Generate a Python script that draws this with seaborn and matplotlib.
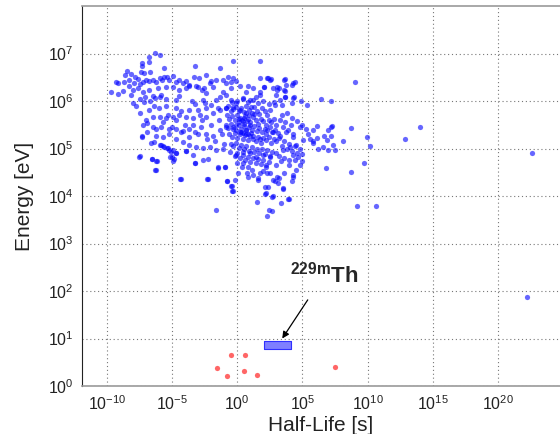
import numpy as np
import pandas as pd
import matplotlib
matplotlib.use("Agg")
import matplotlib.pyplot as plt
import seaborn as sns

# ---- data (log10 half-life [s], log10 energy [eV]) ----
blue_log_points = [
    (-6.33, 7.02), (-5.97, 6.96), (-6.77, 6.92), (-7.33, 6.81), (-6.77, 6.82), (-7.31, 6.74),
    (-5.64, 6.69), (-3.28, 6.74), (-0.33, 6.84), (1.72, 6.85), (-1.33, 6.69), (-6.67, 6.62),
    (-7.15, 6.58), (-8.46, 6.64), (-8.62, 6.55), (-8.15, 6.57), (-7.41, 6.61), (-7.85, 6.50),
    (-7.62, 6.47), (-9.33, 6.39), (-9.67, 6.19), (-9.13, 6.15), (-8.79, 6.22), (-8.15, 6.13),
    (-8.03, 6.24), (-7.64, 6.28), (-7.44, 6.36), (-7.00, 6.44), (-6.77, 6.43), (-6.44, 6.45),
    (-5.97, 6.49), (-5.59, 6.51), (-5.26, 6.44), (-4.95, 6.52), (-4.44, 6.44), (-3.92, 6.43),
    (-3.33, 6.51), (-2.95, 6.48), (-2.44, 6.54), (-2.00, 6.42), (-1.62, 6.44), (-1.10, 6.45),
    (-0.72, 6.51), (-0.33, 6.48), (-0.08, 6.42), (0.18, 6.31), (0.82, 6.31), (1.21, 6.27),
    (1.72, 6.20), (2.36, 6.48), (2.62, 6.47), (2.05, 6.30), (2.74, 6.27), (3.08, 6.23),
    (3.56, 6.44), (3.56, 6.23), (3.72, 6.34), (4.21, 6.34), (4.46, 6.40), (3.00, 6.13),
    (3.26, 6.02), (3.64, 6.08), (4.28, 6.07), (4.87, 6.00), (5.36, 5.92), (6.41, 6.05),
    (7.21, 6.00), (9.05, 6.40),
    (-9.18, 6.37), (-8.67, 6.41), (-8.28, 6.44), (-8.28, 6.31), (-7.90, 6.37), (-7.21, 6.41),
    (-6.23, 6.41), (-5.77, 6.44), (-5.41, 6.50), (-4.69, 6.41), (-4.18, 6.37), (-3.67, 6.31),
    (-3.03, 6.30), (-2.59, 6.27), (-2.13, 6.37), (-1.87, 6.29), (-0.85, 6.38), (-0.46, 6.41),
    (0.69, 6.20), (-6.10, 6.27), (-6.74, 6.24), (-5.85, 6.13), (-3.92, 6.27), (-0.46, 6.27),
    (-1.10, 6.20),
    (-7.26, 6.20), (-7.05, 6.09), (-7.13, 5.97), (-6.67, 6.01), (-6.31, 6.06), (-5.97, 6.09),
    (-5.46, 6.30), (-4.95, 6.29), (-4.44, 6.24), (-3.67, 6.33), (-3.15, 6.31), (-2.69, 6.24),
    (-2.38, 6.16), (-2.64, 6.02), (-3.28, 5.94), (-3.67, 5.81), (-3.03, 5.81), (-2.38, 5.85),
    (-2.00, 5.92), (-1.62, 6.02), (-1.36, 6.09), (-0.85, 6.13), (-0.46, 6.03), (-0.08, 5.95),
    (0.44, 6.06), (0.95, 6.02), (1.41, 6.09), (1.72, 6.13), (1.08, 5.88), (0.69, 5.74),
    (0.18, 5.81), (-0.33, 5.88), (-0.85, 5.85), (-1.36, 5.81), (-1.87, 5.74), (-2.38, 5.67),
    (-2.90, 5.71), (-3.41, 5.64), (-3.92, 5.67), (-4.44, 5.71), (-4.95, 5.67), (-5.46, 5.64),
    (-5.97, 5.67), (-6.49, 5.67), (-7.00, 5.60), (-6.74, 5.81), (-6.36, 5.90), (-5.46, 5.90),
    (-4.69, 5.85), (-4.31, 5.78), (-6.92, 5.53), (-4.69, 6.02),
    (-6.23, 5.41), (-5.85, 5.45), (-5.21, 5.41), (-4.69, 5.41), (-4.18, 5.36), (-3.67, 5.41),
    (-3.28, 5.34), (-2.77, 5.45), (-2.38, 5.31), (-1.87, 5.27), (-1.36, 5.38), (-0.85, 5.45),
    (-0.33, 5.41), (0.18, 5.34), (0.69, 5.31), (1.21, 5.27), (1.72, 5.20), (2.23, 5.31),
    (2.74, 5.34), (3.26, 5.27), (3.77, 5.34), (4.28, 5.24), (4.79, 5.45), (5.31, 5.41),
    (5.82, 5.39), (6.15, 5.48), (6.67, 5.27), (6.97, 5.38), (7.21, 5.46), (7.23, 5.27),
    (6.85, 5.17), (7.36, 5.08), (7.49, 4.96), (6.97, 4.97), (6.59, 5.04), (6.08, 5.22),
    (5.82, 5.11), (5.56, 5.20), (5.05, 5.18), (4.54, 5.08), (4.03, 5.04), (3.51, 4.97),
    (3.00, 4.90), (2.49, 4.83), (1.97, 4.87), (1.46, 4.83), (0.95, 4.90), (0.44, 4.93),
    (-0.08, 4.87), (-0.59, 4.93), (-1.10, 5.00), (-1.62, 4.97), (-2.13, 5.04), (-2.64, 5.01),
    (-3.15, 5.04), (-3.67, 5.07), (-4.18, 5.14), (-4.69, 5.21), (-5.21, 5.31), (-5.72, 5.25),
    (-6.23, 5.27), (-6.62, 5.11), (-5.97, 5.07), (-5.59, 5.04), (-5.33, 5.01), (-5.08, 4.92),
    (-4.69, 4.90), (-3.92, 4.95), (-3.41, 4.86), (-3.28, 4.69), (-2.64, 4.75), (-2.26, 4.78),
    (-1.49, 4.62), (-0.95, 4.62), (-0.77, 4.31), (-0.44, 4.22), (-0.36, 4.10), (-0.05, 4.69),
    (0.46, 4.69), (0.82, 4.62), (1.21, 4.45), (1.59, 4.38), (1.97, 4.52), (2.23, 4.62),
    (2.49, 4.48), (2.74, 4.34), (2.10, 4.20), (2.23, 4.06), (2.69, 3.98), (3.21, 4.38),
    (3.51, 4.17), (3.90, 3.94), (4.28, 4.45), (4.54, 4.55), (4.79, 4.66), (5.00, 4.73),
    (4.28, 4.87), (4.67, 4.83), (3.97, 4.76), (3.38, 4.73), (3.00, 4.66), (-7.51, 4.83),
    (-6.54, 4.78), (-6.28, 4.55), (-6.23, 4.73), (-5.15, 4.83), (-4.95, 4.73), (-4.36, 4.36),
    (-2.31, 4.36), (-4.95, 4.97), (-7.31, 5.25),
    (14.04, 5.45), (12.87, 5.19), (9.93, 5.24), (10.20, 5.05), (9.72, 4.70), (8.75, 4.51),
    (8.73, 5.44), (8.13, 5.16), (6.81, 4.60), (9.21, 3.80), (10.64, 3.78), (22.60, 4.91),
    (22.26, 1.88), (7.24, 5.48),
    (-7.29, 5.26), (-6.37, 5.13), (-7.47, 4.85), (-6.52, 4.78), (-6.19, 4.74), (-6.24, 4.55),
    (-4.32, 4.35), (-5.88, 5.07), (-5.68, 5.05), (-5.42, 5.01), (-5.24, 4.96), (-5.03, 4.83),
    (-4.86, 4.78), (-4.70, 4.91), (-3.94, 4.94), (-3.25, 4.70),
    (-2.27, 4.36), (-0.77, 4.32), (-0.48, 4.22), (-0.41, 4.10), (-1.48, 4.60), (-0.94, 4.62),
    (-1.61, 3.71), (1.53, 3.88), (2.43, 3.71), (2.69, 3.69), (2.26, 3.58), (2.74, 3.99),
    (3.38, 3.85), (3.97, 3.94), (3.53, 4.15), (2.10, 4.04), (2.38, 4.20), (2.89, 4.31),
    (3.15, 4.27), (3.02, 4.41), (3.61, 4.48), (4.17, 4.31), (4.25, 4.41), (0.77, 4.48),
    (0.84, 4.41), (1.61, 4.34), (1.74, 4.48), (2.26, 4.48), (0.08, 4.48), (-0.18, 4.34),
    (0.34, 4.62), (1.10, 4.55),
    (1.72, 6.49), (2.26, 6.49), (2.51, 6.45), (3.66, 6.46), (3.02, 6.29), (3.20, 6.28),
    (2.07, 6.30), (4.30, 6.38), (4.37, 6.08), (3.66, 6.08), (3.66, 6.21), (4.17, 5.96),
    (3.41, 5.91), (2.89, 5.92),
    (-0.9, 5.85), (-0.7, 5.90), (-0.5, 5.78), (-0.3, 5.83), (-0.1, 5.88), (0.1, 5.80),
    (0.3, 5.86), (0.5, 5.77), (0.7, 5.90), (0.9, 5.82), (1.1, 5.75), (1.3, 5.87),
    (1.5, 5.80), (1.7, 5.72), (1.9, 5.85), (2.1, 5.78), (2.3, 5.70), (2.5, 5.82),
    (-0.8, 5.70), (-0.6, 5.62), (-0.4, 5.68), (-0.2, 5.60), (0.0, 5.70), (0.2, 5.65),
    (0.4, 5.58), (0.6, 5.68), (0.8, 5.62), (1.0, 5.55), (1.2, 5.66), (1.4, 5.60),
    (1.6, 5.52), (1.8, 5.63), (2.0, 5.57), (2.2, 5.50), (2.4, 5.60), (2.6, 5.55),
    (2.8, 5.62), (3.0, 5.50),
    (-0.9, 5.50), (-0.7, 5.44), (-0.5, 5.52), (-0.3, 5.45), (-0.1, 5.40), (0.1, 5.50),
    (0.3, 5.42), (0.5, 5.48), (0.7, 5.38), (0.9, 5.45), (1.1, 5.40), (1.3, 5.47),
    (1.5, 5.36), (1.7, 5.43), (1.9, 5.35), (2.1, 5.42), (2.3, 5.38), (2.5, 5.45),
    (2.7, 5.35), (2.9, 5.40), (3.1, 5.33),
    (-0.6, 5.30), (-0.4, 5.25), (-0.2, 5.32), (0.0, 5.22), (0.2, 5.30), (0.4, 5.20),
    (0.6, 5.28), (0.8, 5.18), (1.0, 5.27), (1.2, 5.20), (1.4, 5.15), (1.6, 5.25),
    (1.8, 5.12), (2.0, 5.22), (2.2, 5.17), (2.4, 5.25), (2.6, 5.12), (2.8, 5.20),
    (3.0, 5.15), (3.2, 5.23),
    (-0.5, 5.10), (-0.3, 5.05), (-0.1, 5.12), (0.1, 5.02), (0.3, 5.08), (0.5, 4.98),
    (0.7, 5.06), (0.9, 4.95), (1.1, 5.03), (1.3, 4.92), (1.5, 5.00), (1.7, 4.90),
    (1.9, 4.98), (2.1, 4.88), (2.3, 4.96), (2.5, 4.85), (2.7, 4.93),
    (-0.2, 4.85), (0.0, 4.90), (0.2, 4.80), (0.4, 4.86), (0.6, 4.76), (0.8, 4.82),
    (1.0, 4.72), (1.2, 4.80), (1.4, 4.70), (1.6, 4.78), (1.8, 4.68), (2.0, 4.75),
    (2.2, 4.65), (2.4, 4.72),
    (0.0, 6.00), (0.4, 6.05), (0.8, 5.98), (1.2, 6.02), (1.6, 5.95), (2.0, 6.00),
    (2.4, 5.93), (2.8, 5.98), (-0.4, 5.98),
    (0.15, 5.55), (0.35, 5.60), (0.55, 5.52), (0.75, 5.57), (0.95, 5.50), (0.25, 5.35),
    (0.45, 5.33), (0.65, 5.40), (0.85, 5.30), (1.05, 5.33), (0.5, 5.65), (0.9, 5.70),
    (1.3, 5.73), (0.1, 5.62), (-0.1, 5.50),
    (3.3, 5.60), (3.5, 5.45), (3.7, 5.55), (3.9, 5.38), (4.1, 5.50), (4.3, 5.30),
    (3.4, 5.05), (3.6, 5.15), (3.8, 4.98), (4.0, 5.10), (4.2, 4.95), (4.4, 5.05),
    (4.6, 4.90), (4.8, 5.00), (5.0, 4.88), (3.2, 4.85), (3.6, 4.80), (4.0, 4.65),
    (4.4, 4.75), (3.4, 5.70), (3.8, 5.75), (4.2, 5.65), (4.6, 5.58), (5.0, 5.50),
    (5.4, 5.30), (5.8, 5.15), (6.2, 5.00),
    (-7.8, 5.90), (-7.5, 5.75), (-7.2, 5.50), (-6.9, 5.35), (-6.5, 5.45), (-6.0, 5.85),
    (-5.7, 5.55), (-5.3, 5.70), (-5.0, 5.45), (-4.7, 5.60), (-4.3, 5.35), (-4.0, 5.50),
    (-3.7, 5.25), (-3.4, 5.50), (-3.0, 5.30), (-2.7, 5.60), (-2.3, 5.20), (-2.0, 5.50),
    (-1.7, 5.15), (-1.4, 5.60), (-1.2, 5.30), (-1.0, 5.10), (-1.5, 5.85), (-2.5, 5.95),
    (-3.5, 6.00), (-4.5, 6.10), (-5.5, 6.05), (-6.5, 6.10), (-7.5, 6.05), (-8.0, 5.95),
]

red_log_halflife = [-0.48, 0.59, -1.56, -0.79, 0.51, 1.51, 7.50]
red_log_energy = [0.65, 0.65, 0.38, 0.21, 0.32, 0.23, 0.40]

th_halflife_range = [1.1e2, 1.3e4]   # s
th_energy_range = [5.9, 9.0]         # eV

x_tick_exponents = [-10, -5, 0, 5, 10, 15, 20]
y_tick_exponents = [0, 1, 2, 3, 4, 5, 6, 7]

blue_df = pd.DataFrame(blue_log_points, columns=["log_t", "log_e"])
blue_df["half_life"] = 10.0 ** blue_df["log_t"]
blue_df["energy"] = 10.0 ** blue_df["log_e"]
red_df = pd.DataFrame({"half_life": 10.0 ** np.array(red_log_halflife),
                       "energy": 10.0 ** np.array(red_log_energy)})

# ---- style ----
sns.set_style("white")
plt.rcParams["font.family"] = ["Liberation Sans", "DejaVu Sans"]
plt.rcParams["mathtext.fontset"] = "custom"
plt.rcParams["mathtext.rm"] = "Liberation Sans"
plt.rcParams["mathtext.bf"] = "Liberation Sans:bold"
plt.rcParams["mathtext.default"] = "regular"
plt.rcParams["axes.unicode_minus"] = False

fig = plt.figure(figsize=(5.6, 4.34), dpi=100)
ax = fig.add_axes([82 / 560, 48 / 434, 478 / 560, 380 / 434])
ax.set_xscale("log")
ax.set_yscale("log")

sns.scatterplot(data=blue_df, x="half_life", y="energy", ax=ax, color="#0000ff",
                alpha=0.6, s=13, edgecolor="#4040ff", linewidth=0.2, legend=False, zorder=3)
sns.scatterplot(data=red_df, x="half_life", y="energy", ax=ax, color="#ff0000",
                alpha=0.6, s=13, edgecolor="#ff4040", linewidth=0.2, legend=False, zorder=3)

ax.fill_between(th_halflife_range, th_energy_range[0], th_energy_range[1],
                facecolor="#7f7fff", edgecolor="#3030ff", linewidth=0.8, zorder=3)

ax.annotate(r"$^{\mathbf{229m}}\mathbf{Th}$", xy=(10 ** 3.45, 10 ** 1.0),
            xytext=(10 ** 6.7, 10 ** 2.35), ha="center", va="center", fontsize=16,
            arrowprops=dict(arrowstyle="-|>", color="black", lw=0.9,
                            shrinkA=8, shrinkB=0, mutation_scale=10), zorder=4)

ax.set_xlim(10 ** -11.92, 10 ** 24.77)
ax.set_ylim(1, 10 ** 8.0)
ax.set_xticks([10.0 ** e for e in x_tick_exponents])
ax.set_xticklabels([f"$10^{{{e}}}$" for e in x_tick_exponents])
ax.set_yticks([10.0 ** e for e in y_tick_exponents])
ax.set_yticklabels([f"$10^{{{e}}}$" for e in y_tick_exponents])
ax.minorticks_off()
ax.tick_params(axis="both", which="major", direction="in", length=3, width=0.6,
               color="#555555", labelsize=11.5, labelcolor="#222222", pad=6)

ax.grid(True, which="major", linestyle=(0, (1, 2.5)), color="#777777", linewidth=0.8)
for side in ["top", "bottom"]:
    ax.spines[side].set_color("#999999")
    ax.spines[side].set_linewidth(1.2)
ax.spines["left"].set_color("#222222")
ax.spines["left"].set_linestyle((0, (1, 1)))
ax.spines["left"].set_linewidth(0.8)
ax.spines["right"].set_visible(False)

ax.set_xlabel("Half-Life [s]", fontsize=15, color="#222222", labelpad=2)
ax.set_ylabel("Energy [eV]", fontsize=15, color="#222222", labelpad=10)

fig.savefig("out.png", dpi=100)
